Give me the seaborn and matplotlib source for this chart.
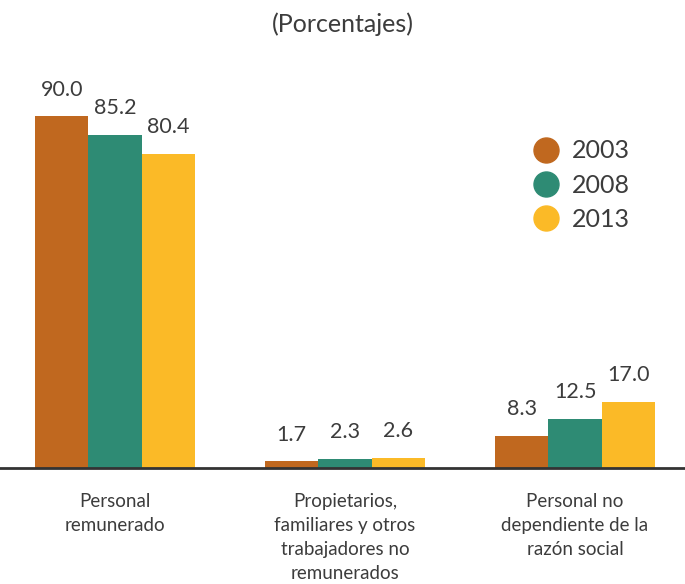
import pandas as pd
import seaborn as sns
import matplotlib.pyplot as plt
from matplotlib.lines import Line2D

# Chart data
categories = [
    'Personal\nremunerado',
    'Propietarios,\nfamiliares y otros\ntrabajadores no\nremunerados',
    'Personal no\ndependiente de la\nrazón social',
]
years = ['2003', '2008', '2013']
values_2003 = [90.0, 1.7, 8.3]
values_2008 = [85.2, 2.3, 12.5]
values_2013 = [80.4, 2.6, 17.0]
colors = ['#C0681F', '#2E8B74', '#FBBA27']
text_color = '#3C3C3C'

df = pd.DataFrame({
    'categoria': categories * 3,
    'anio': [y for y in years for _ in categories],
    'valor': values_2003 + values_2008 + values_2013,
})

sns.set_style('white')
plt.rcParams['font.family'] = ['Lato', 'DejaVu Sans']

fig = plt.figure(figsize=(6.85, 5.84), dpi=100)
ax = fig.add_axes([0.0, 0.1986, 1.0, 0.733])

sns.barplot(data=df, x='categoria', y='valor', hue='anio', palette=colors,
            width=0.696, gap=0, saturation=1, linewidth=0, ax=ax, legend=False)

# Value labels on top of bars
for container in ax.containers:
    ax.bar_label(container, fmt='%.1f', padding=12, fontsize=15.5, color=text_color)

ax.set_xlim(-0.5, 2.478)
ax.set_ylim(0, 109.5)
ax.set_xlabel('')
ax.set_ylabel('')
ax.set_yticks([])
ax.tick_params(axis='x', length=0, pad=18, labelsize=13.5, colors=text_color)
for lbl in ax.get_xticklabels():
    lbl.set_linespacing(1.5)

for side in ['top', 'right', 'left']:
    ax.spines[side].set_visible(False)
ax.spines['bottom'].set_color('#333333')
ax.spines['bottom'].set_linewidth(2)

# Legend with round markers
handles = [Line2D([0], [0], marker='o', linestyle='', markersize=18,
                  markerfacecolor=c, markeredgecolor=c) for c in colors]
ax.legend(handles, years, loc='upper left', bbox_to_anchor=(0.742, 0.82),
          frameon=False, fontsize=18, labelcolor=text_color,
          handletextpad=0.45, labelspacing=0.45, handlelength=1.2)

fig.text(0.5, 0.958, '(Porcentajes)', ha='center', va='center',
         fontsize=18, color=text_color)

fig.savefig('out.png', dpi=100)
